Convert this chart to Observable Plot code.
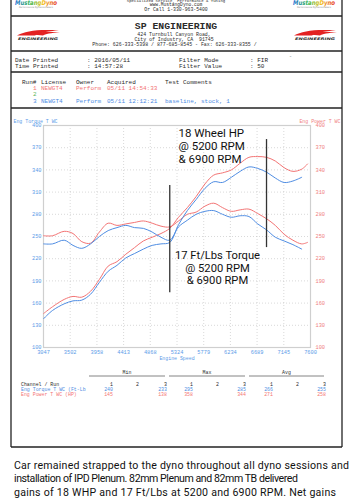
<!DOCTYPE html>
<html><head><meta charset="utf-8">
<script src="https://cdn.jsdelivr.net/npm/d3@7"></script>
<script src="https://cdn.jsdelivr.net/npm/@observablehq/plot@0.6"></script>
<style>
html,body{margin:0;padding:0;background:#fff;}
#page{position:relative;width:353px;height:500px;overflow:hidden;background:#fff;}
#page svg{position:absolute;left:0;}
</style></head>
<body><div id="page"></div>
<script>
// ---------- data ----------
const rpmRun1 = [3050,3200,3400,3550,3700,3850,4000,4150,4300,4450,4600,4750,4900,5050,5200,5350,5500,5650,5800,5950,6100,6250,6400,6550,6700,6850,7000,7150,7300,7450,7550];
const run1Torque = [251,251,257,254,243,241,256,268,265,267,269,271,268,264,263,271,280,283,291,295,289,284,286,287,281,274,265,253,245,240,242];
const run1Power  = [146,155,165,169,168,176,192,210,216,226,235,244,249,254,261,276,289,304,321,333,336,340,349,357,358,357,352,343,338,341,348];
const rpmRun3 = [3050,3200,3400,3550,3700,3850,4000,4150,4300,4450,4600,4750,4900,5050,5200,5350,5500,5650,5800,5950,6100,6250,6400,6550,6700,6850,7000,7150,7300,7450];
const run3Torque = [240,240,245,238,234,240,250,258,262,265,262,261,256,249,245,263,272,280,284,285,280,276,278,277,267,259,249,244,239,233];
const run3Power  = [139,150,159,163,164,172,188,203,211,221,227,233,238,240,242,266,285,300,315,324,323,330,338,344,342,337,329,323,325,330];

const xTicks = [3047,3502,3958,4413,4868,5324,5779,6234,6689,7145,7600];
const yTicks = [100,130,160,190,220,250,280,310,340,370,400];

const markerRpm  = [5200, 6850];
const markerLow  = [174, 235];
const markerHigh = [319, 381];

const hpNote = ["18 Wheel HP", "@ 5200 RPM", "& 6900 RPM"];
const hpNoteRpm = 5349;
const hpNoteY = [389.9, 371.9, 354.7];
const tqNote = ["17 Ft/Lbs Torque", "@ 5200 RPM", "& 6900 RPM"];
const tqNoteRpm = 6014;
const tqNoteY = [224.6, 207.4, 190.1];

const statRuns = ["1","2","3"];
const torqueMin = [240, null, 233], torqueMax = [295, null, 285], torqueAvg = [266, null, 255];
const powerMin  = [145, null, 138], powerMax  = [358, null, 344], powerAvg  = [271, null, 258];

const caption = [
  "Car remained strapped to the dyno throughout all dyno sessions and",
  "installation of IPD Plenum. 82mm Plenum and 82mm TB delivered",
  "gains of 18 WHP and 17 Ft/Lbs at 5200 and 6900 RPM. Net gains"
];

const RED = "#f37474", BLUE = "#4f8de3", GREEN = "#5cb85c";
const RED_T = "#f08080", BLUE_T = "#5b9be8", INK = "#2a2a2a";

// ---------- page decoration ----------
const W = 353, H = 500;
const page = document.getElementById("page");
const svg = d3.select(page).append("svg").attr("width", W).attr("height", H).style("top", "0px");
const defs = svg.append("defs");
const grad = defs.append("linearGradient").attr("id", "rb");
[["0%","#2b6fd6"],["35%","#2bb24c"],["65%","#f2c21b"],["100%","#e2342d"]].forEach(([o,c]) =>
  grad.append("stop").attr("offset", o).attr("stop-color", c));

function txt(x, y, s, o = {}) {
  const t = svg.append("text").attr("x", x).attr("y", y).text(s)
    .attr("font-family", o.family || "'Liberation Mono', monospace")
    .attr("font-size", o.size || 6)
    .attr("fill", o.fill || INK)
    .attr("text-anchor", o.anchor || "start")
    .style("white-space", "pre");
  if (o.weight) t.attr("font-weight", o.weight);
  if (o.fstyle) t.attr("font-style", o.fstyle);
  if (o.len) t.attr("textLength", o.len).attr("lengthAdjust", o.adjust || "spacingAndGlyphs");
  return t;
}
function hline(y, x1 = 11, x2 = 342, c = "#222", w = 1.3) {
  svg.append("line").attr("x1", x1).attr("x2", x2).attr("y1", y).attr("y2", y).attr("stroke", c).attr("stroke-width", w);
}
function vline(x, y1, y2, c = "#222", w = 1.3) {
  svg.append("line").attr("x1", x).attr("x2", x).attr("y1", y1).attr("y2", y2).attr("stroke", c).attr("stroke-width", w);
}
vline(11, 0, 447); vline(342, 0, 447);
[16, 51, 72, 108, 447].forEach(y => hline(y));

// top strip
txt(176, 2.2, "Specialized Service, Performance & Tuning", {size: 4, anchor: "middle"});
txt(176, 6.4, "www.MustangDyno.com", {size: 4.6, anchor: "middle"});
txt(176, 11, "Or Call 1-330-963-5400", {size: 4.8, anchor: "middle"});
[[15, 57], [293, 335]].forEach(([a, b]) => {
  txt(a, 5, "MustangDyno", {size: 6.5, family: "'DejaVu Sans', sans-serif", weight: "bold", fstyle: "italic", fill: "url(#rb)", len: b - a});
  txt(a + 4, 8, "Performance Dynamometers", {size: 2.4, fill: "#888", len: b - a - 8, family: "'DejaVu Sans', sans-serif"});
});

// SP header
txt(176, 29, "SP ENGINEERING", {size: 9.8, weight: "bold", anchor: "middle"});
txt(174, 36.2, "424 Turnbull Canyon Road,", {size: 4.9, anchor: "middle"});
txt(174, 40.8, "City of Industry, CA  91745", {size: 4.9, anchor: "middle"});
txt(174.5, 45.5, "Phone: 626-333-5398 / 877-685-8545 - Fax: 626-333-8355 /", {size: 4.9, anchor: "middle"});
[17, 294].forEach(x0 => {
  svg.append("path").attr("fill", "#e32222")
    .attr("d", `M${x0} ${35.5} C ${x0+8} ${31} ${x0+22} ${29} ${x0+42} ${30.5} C ${x0+30} ${31} ${x0+22} ${33} ${x0+18} ${35.5} Z`);
  svg.append("path").attr("fill", "#e32222")
    .attr("d", `M${x0+10} ${34} C ${x0+18} ${32.2} ${x0+30} ${31.8} ${x0+43} ${32.3} C ${x0+34} ${33} ${x0+28} ${34} ${x0+26} ${35.6} Z`);
  txt(x0 + 1, 39.8, "ENGINEERING", {size: 3.6, weight: "bold", fstyle: "italic", family: "'DejaVu Sans', sans-serif", len: 40});
});

// print info
txt(15, 61.5, "Date Printed", {size: 6}); txt(87, 61.5, ": 2016/05/11", {size: 6});
txt(179, 61.5, "Filter Mode", {size: 6}); txt(250, 61.5, ": FIR", {size: 6});
txt(15, 67.8, "Time Printed", {size: 6}); txt(87, 67.8, ": 14:57:28", {size: 6});
txt(179, 67.8, "Filter Value", {size: 6}); txt(250, 67.8, ": 50", {size: 6});
txt(289, 58, "-", {size: 5, fill: "#777"});

// runs
txt(22, 83.5, "Run#", {size: 6}); txt(41, 83.5, "License", {size: 6}); txt(76, 83.5, "Owner", {size: 6});
txt(107, 83.5, "Acquired", {size: 6}); txt(165, 83.5, "Test Comments", {size: 6});
txt(33, 90.1, "1", {size: 6, fill: RED}); txt(41, 90.1, "NEWGT4", {size: 6, fill: RED});
txt(76, 90.1, "Perform", {size: 6, fill: RED}); txt(107, 90.1, "05/11 14:54:33", {size: 6, fill: RED});
txt(33, 96.1, "2", {size: 6, fill: GREEN});
txt(33, 102.5, "3", {size: 6, fill: BLUE}); txt(41, 102.5, "NEWGT4", {size: 6, fill: BLUE});
txt(76, 102.5, "Perform", {size: 6, fill: BLUE}); txt(107, 102.5, "05/11 12:12:21", {size: 6, fill: BLUE});
txt(165, 102.5, "baseline, stock, 1", {size: 6, fill: BLUE});

// stats table
const groups = [["Min", 89, 165, [113, 139, 167], torqueMin, powerMin],
                ["Max", 169, 245, [193, 219, 246], torqueMax, powerMax],
                ["Avg", 249, 324, [273, 299, 326], torqueAvg, powerAvg]];
txt(21, 385.5, "Channel / Run", {size: 4.9});
txt(21, 390.5, "Eng Torque T WC (Ft-Lb", {size: 4.9, fill: BLUE});
txt(21, 395.5, "Eng Power T WC (HP)", {size: 4.9, fill: RED});
groups.forEach(([name, a, b, cols, tq, pw]) => {
  txt((a + b) / 2, 374.4, name, {size: 4.9, anchor: "middle"});
  hline(376, a, b, "#666", 0.8);
  cols.forEach((cx, i) => {
    txt(cx, 385.5, statRuns[i], {size: 4.9, anchor: "end"});
    if (tq[i] != null) txt(cx, 390.5, String(tq[i]), {size: 4.9, anchor: "end", fill: BLUE});
    if (pw[i] != null) txt(cx, 395.5, String(pw[i]), {size: 4.9, anchor: "end", fill: RED});
  });
});

// caption
const capLen = [335, 284, 322];
caption.forEach((line, i) => txt(14, 469 + i * 13.4, line,
  {size: 10.6, family: "Roboto, sans-serif", fill: "#111", len: capLen[i], adjust: "spacing"}));

// ---------- chart ----------
const series = [
  {run: "1", ch: "Torque", rpm: rpmRun1, v: run1Torque},
  {run: "1", ch: "Power",  rpm: rpmRun1, v: run1Power},
  {run: "3", ch: "Torque", rpm: rpmRun3, v: run3Torque},
  {run: "3", ch: "Power",  rpm: rpmRun3, v: run3Power}
];
const rows = series.flatMap(s => s.rpm.map((r, i) => ({rpm: r, value: s.v[i], run: s.run, key: s.run + s.ch})));
const markers = markerRpm.map((r, i) => ({rpm: r, lo: markerLow[i], hi: markerHigh[i]}));
const hpRows = hpNote.map((t, i) => ({t, rpm: hpNoteRpm, y: hpNoteY[i]}));
const tqRows = tqNote.map((t, i) => ({t, rpm: tqNoteRpm, y: tqNoteY[i]}));

const chart = Plot.plot({
  width: 353, height: 260,
  marginLeft: 43, marginRight: 43, marginTop: 17, marginBottom: 21,
  style: {background: "transparent", fontFamily: "'Liberation Mono', monospace", fontSize: "5.3px", overflow: "visible"},
  x: {domain: [3047, 7600]},
  y: {domain: [100, 400]},
  color: {domain: ["1", "3"], range: [RED, BLUE]},
  marks: [
    Plot.gridX(xTicks, {stroke: "#aaa", strokeOpacity: 0.45, strokeDasharray: "1,2"}),
    Plot.gridY(yTicks, {stroke: "#aaa", strokeOpacity: 0.45, strokeDasharray: "1,2"}),
    Plot.frame({stroke: "#cfcfcf", strokeWidth: 1.2}),
    Plot.axisY(yTicks, {anchor: "left", tickSize: 0, tickPadding: 2, fill: BLUE_T, label: null}),
    Plot.axisY(yTicks, {anchor: "right", tickSize: 0, tickPadding: 5, fill: RED_T, label: null}),
    Plot.axisX(xTicks, {anchor: "bottom", tickSize: 0, tickPadding: 2.5, fill: BLUE_T, label: null, tickFormat: d => String(d)}),
    Plot.line(rows, {x: "rpm", y: "value", z: "key", stroke: "run", strokeWidth: 1, curve: "catmull-rom"}),
    Plot.ruleX(markers, {x: "rpm", y1: "lo", y2: "hi", stroke: "#333", strokeWidth: 1.3}),
    Plot.text(hpRows, {x: "rpm", y: "y", text: "t", textAnchor: "start", fontSize: 11.5, fill: "#111", fontFamily: "Roboto, sans-serif"}),
    Plot.text(tqRows, {x: "rpm", y: "y", text: "t", textAnchor: "middle", fontSize: 11.2, fill: "#111", fontFamily: "Roboto, sans-serif"}),
    Plot.text(["Eng Torque T WC"], {frameAnchor: "top-left", dx: -30, dy: -5.5, textAnchor: "start", fill: BLUE_T, fontSize: 4.9}),
    Plot.text(["Eng Power T WC"], {frameAnchor: "top-right", dx: 30, dy: -5.5, textAnchor: "end", fill: RED_T, fontSize: 4.9}),
    Plot.text(["Engine Speed"], {frameAnchor: "bottom", dy: 12.5, fill: BLUE_T, fontSize: 4.9})
  ]
});
chart.style.top = "108px";
page.appendChild(chart);
</script>
</body></html>
